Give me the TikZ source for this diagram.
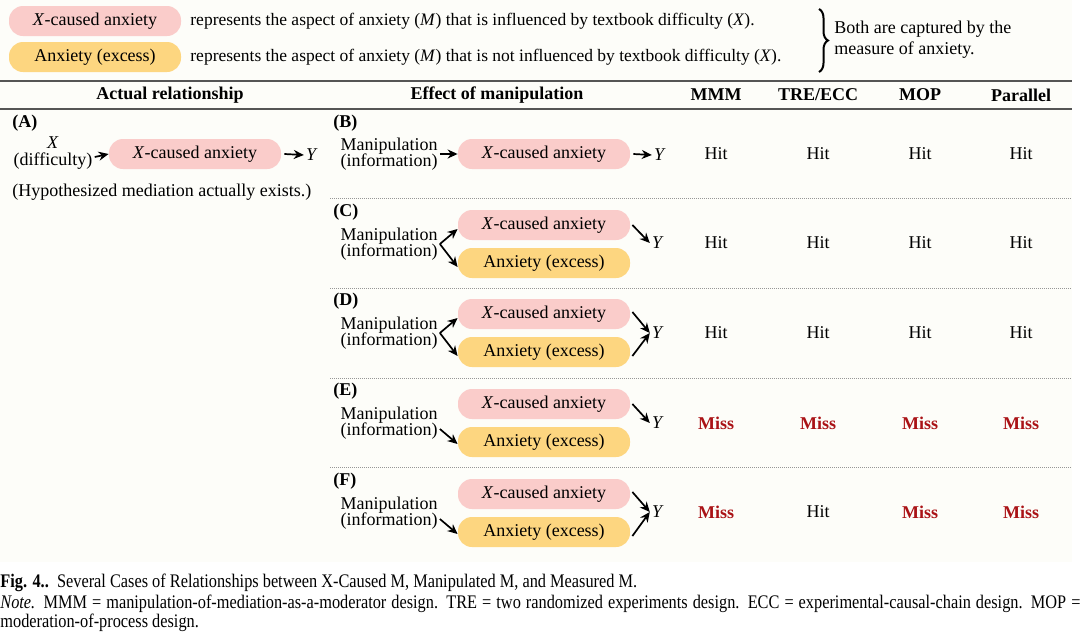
\documentclass[tikz,border=0pt]{standalone}
\usepackage{fontspec}
\setmainfont{Liberation Serif}
\newfontfamily\capfont[FakeStretch=0.85]{Liberation Serif}
\usetikzlibrary{arrows.meta,decorations.pathreplacing}
\definecolor{cream}{RGB}{253,253,249}
\definecolor{pinkbox}{RGB}{250,204,202}
\definecolor{orangebox}{RGB}{253,214,128}
\definecolor{missred}{RGB}{170,18,22}
\definecolor{rulegray}{RGB}{85,85,85}
\definecolor{dotgray}{RGB}{150,150,150}
\begin{document}
\begin{tikzpicture}[x=0.5pt,y=-0.5pt,
  font=\fontsize{9}{8.3}\selectfont,
  every node/.style={inner sep=0pt},
  pinkb/.style={fill=pinkbox, rounded corners=7pt, minimum width=86pt, minimum height=15pt},
  orangeb/.style={fill=orangebox, rounded corners=7pt, minimum width=86pt, minimum height=15pt},
  manip/.style={align=center},
  lab/.style={anchor=west, font=\fontsize{9}{8.3}\selectfont\bfseries},
  hdr/.style={font=\fontsize{9}{8.3}\selectfont\bfseries},
  ynode/.style={inner sep=1pt},
  miss/.style={font=\fontsize{9}{8.3}\selectfont\bfseries, text=missred},
  arr/.style={-{Stealth[length=5pt,width=4.5pt]}, line width=0.85pt},
  mainrule/.style={rulegray, line width=0.8pt},
  dotrule/.style={dotgray, line width=0.4pt, dash pattern=on 0.5pt off 0.5pt},
  legtxt/.style={anchor=west, font=\fontsize{8.75}{10}\selectfont},
  captxt/.style={anchor=west, font=\capfont\fontsize{9.6}{10}\selectfont}
]
\useasboundingbox (0,0) rectangle (1082,632);
\fill[white] (0,0) rectangle (1082,632);
\fill[cream] (0,0) rectangle (1072,562);

% legend
\node[pinkb] (pL) at (95,21) {\textit{X}-caused anxiety};
\node[orangeb] (oL) at (95,57) {Anxiety (excess)};
\node[legtxt] (tL1) at (190,21) {represents the aspect of anxiety (\textit{M}) that is influenced by textbook difficulty (\textit{X}).};
\node[legtxt] (tL2) at (190,57) {represents the aspect of anxiety (\textit{M}) that is not influenced by textbook difficulty (\textit{X}).};
\coordinate (bt) at (819,9);
\coordinate (bb) at (819,72);
\draw[decorate, decoration={brace, amplitude=4.5pt}, line width=1pt] (bt) -- (bb);
\node[anchor=west, align=left, font=\fontsize{9}{10.5}\selectfont] (both) at (834,40) {Both are captured by the\\measure of anxiety.};

% rules and headers
\coordinate (r1a) at (0,81); \coordinate (r1b) at (1072,81);
\coordinate (r2a) at (0,109); \coordinate (r2b) at (1072,109);
\draw[mainrule] (r1a) -- (r1b);
\draw[mainrule] (r2a) -- (r2b);
\node[hdr] (h1) at (170,95) {Actual relationship};
\node[hdr] (h2) at (497,95) {Effect of manipulation};
\node[hdr] (h3) at (716,95) {MMM};
\node[hdr] (h4) at (818,95) {TRE/ECC};
\node[hdr] (h5) at (920,95) {MOP};
\node[hdr] (h6) at (1021,95) {Parallel};

% dotted separators
\foreach \yy/\nm in {198/d1, 288/d2, 378/d3, 467/d4}{
  \coordinate (\nm a) at (330,\yy); \coordinate (\nm b) at (1072,\yy);
  \draw[dotrule] (\nm a) -- (\nm b);
}

% (A)
\node[lab] (lA) at (12,123) {(A)};
\node[manip] (xA) at (53,153) {\textit{X}\\(difficulty)};
\node[pinkb] (pA) at (195,154) {\textit{X}-caused anxiety};
\node[ynode] (yA) at (312,155) {\textit{Y}};
\draw[arr] ([xshift=1pt,yshift=-2pt]xA.east) -- (pA.west);
\draw[arr] ([xshift=1.5pt]pA.east) -- (yA.west);
\node[anchor=west] (hyp) at (12,192) {(Hypothesized mediation actually exists.)};

% (B)
\node[lab] (lB) at (333,123) {(B)};
\node[manip] (mB) at (389,154) {Manipulation\\(information)};
\node[pinkb] (pB) at (544,154) {\textit{X}-caused anxiety};
\node[ynode] (yB) at (660,155) {\textit{Y}};
\draw[arr] ([xshift=1pt]mB.east) -- (pB.west);
\draw[arr] ([xshift=1.5pt]pB.east) -- (yB.west);

% (C)
\node[lab] (lC) at (333,212) {(C)};
\node[manip] (mC) at (389,244) {Manipulation\\(information)};
\node[pinkb] (pC) at (544,225) {\textit{X}-caused anxiety};
\node[orangeb] (oC) at (544,263) {Anxiety (excess)};
\node[ynode] (yC) at (658,243) {\textit{Y}};
\draw[arr] ([xshift=1pt]mC.east) -- ([yshift=-2pt]pC.west);
\draw[arr] ([xshift=1pt]mC.east) -- ([yshift=-2pt]oC.west);
\draw[arr] ([xshift=1pt]pC.east) -- (yC.west);

% (D)
\node[lab] (lD) at (333,301) {(D)};
\node[manip] (mD) at (389,333) {Manipulation\\(information)};
\node[pinkb] (pD) at (544,314) {\textit{X}-caused anxiety};
\node[orangeb] (oD) at (544,352) {Anxiety (excess)};
\node[ynode] (yD) at (658,333) {\textit{Y}};
\draw[arr] ([xshift=1pt]mD.east) -- ([yshift=-2pt]pD.west);
\draw[arr] ([xshift=1pt]mD.east) -- ([yshift=-2pt]oD.west);
\draw[arr] ([xshift=1pt,yshift=1pt]pD.east) -- (yD.west);
\draw[arr] ([xshift=1pt,yshift=-2pt]oD.east) -- (yD.west);

% (E)
\node[lab] (lE) at (333,391) {(E)};
\node[manip] (mE) at (389,423) {Manipulation\\(information)};
\node[pinkb] (pE) at (544,404) {\textit{X}-caused anxiety};
\node[orangeb] (oE) at (544,442) {Anxiety (excess)};
\node[ynode] (yE) at (658,423) {\textit{Y}};
\draw[arr] ([xshift=1pt,yshift=-3pt]mE.east) -- ([yshift=-1pt]oE.west);
\draw[arr] ([xshift=1pt]pE.east) -- (yE.west);

% (F)
\node[lab] (lF) at (333,481) {(F)};
\node[manip] (mF) at (389,513) {Manipulation\\(information)};
\node[pinkb] (pF) at (544,494) {\textit{X}-caused anxiety};
\node[orangeb] (oF) at (544,532) {Anxiety (excess)};
\node[ynode] (yF) at (658,512) {\textit{Y}};
\draw[arr] ([xshift=1pt,yshift=-3pt]mF.east) -- ([yshift=-1pt]oF.west);
\draw[arr] ([xshift=1pt,yshift=1pt]pF.east) -- (yF.west);
\draw[arr] ([xshift=1pt,yshift=-2pt]oF.east) -- (yF.west);

% results
\foreach \yy/\r in {154/B, 243/C, 333/D}{
  \node (h3\r) at (716,\yy) {Hit};
  \node (h4\r) at (818,\yy) {Hit};
  \node (h5\r) at (920,\yy) {Hit};
  \node (h6\r) at (1021,\yy) {Hit};
}
\node[miss] (h3E) at (716,423) {Miss};
\node[miss] (h4E) at (818,423) {Miss};
\node[miss] (h5E) at (920,423) {Miss};
\node[miss] (h6E) at (1021,423) {Miss};
\node[miss] (h3F) at (716,512) {Miss};
\node (h4F) at (818,512) {Hit};
\node[miss] (h5F) at (920,512) {Miss};
\node[miss] (h6F) at (1021,512) {Miss};

% caption
\node[captxt] (cap) at (0,583) {\textbf{Fig. 4..}\ \ Several Cases of Relationships between X-Caused M, Manipulated M, and Measured M.};
\node[captxt] (note1) at (0,604) {\makebox[540pt][s]{\textit{Note.} MMM = manipulation-of-mediation-as-a-moderator design. TRE = two randomized experiments design. ECC = experimental-causal-chain design. MOP =}};
\node[captxt] (note2) at (0,623) {moderation-of-process design.};
\end{tikzpicture}
\end{document}
